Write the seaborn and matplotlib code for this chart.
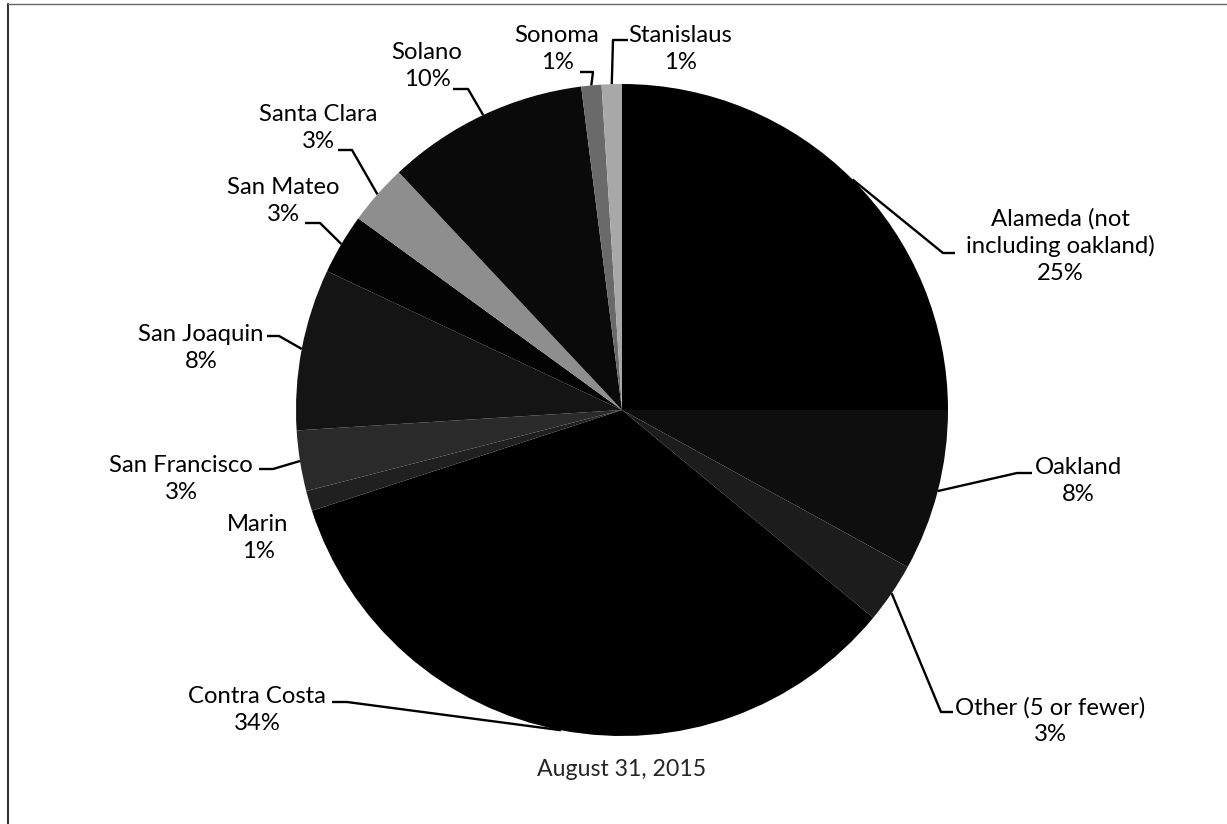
import numpy as np
import seaborn as sns
import matplotlib.pyplot as plt
from matplotlib.lines import Line2D

# data
counties = ["Alameda (not\nincluding oakland)", "Oakland", "Other (5 or fewer)",
            "Contra Costa", "Marin", "San Francisco", "San Joaquin", "San Mateo",
            "Santa Clara", "Solano", "Sonoma", "Stanislaus"]
shares = [25, 8, 3, 34, 1, 3, 8, 3, 3, 10, 1, 1]
caption = "August 31, 2015"

# look
colors = ["#000000", "#0e0e0e", "#1c1c1c", "#000000", "#202020", "#2a2a2a",
          "#141414", "#030303", "#8e8e8e", "#0a0a0a", "#6a6a6a", "#a8a8a8"]

# label layout in pixels (block center, text-side leader end, elbow)
label_pos = [(1060, 246), (1078, 481), (1050, 721), (257, 710), (258, 538),
             (181, 479), (201, 348), (283, 201), (318, 128), (427, 66),
             (557, 49), (680, 49)]
leader = [((955, 253), (943, 253)), ((1032, 473), (1017, 473)),
          ((953, 712), (941, 712)), ((332, 702), (347, 702)), None,
          ((259, 469), (273, 469)), ((267, 336), (279, 336)),
          ((305, 223), (320, 223)), ((338, 150), (352, 150)),
          ((453, 89), (468, 89)), ((580, 72), (593, 72)),
          ((628, 40), (613, 40))]

W, H = 1227, 824
CX, CY, R = 622, 410, 326
FS = 17.2

sns.set_theme(style="white")
plt.rcParams["font.family"] = ["Lato", "DejaVu Sans"]

fig = plt.figure(figsize=(W / 100, H / 100), dpi=100)
ax = fig.add_axes([0, 0, 1, 1])


def fy(py):
    return H - py


wedges, _ = ax.pie(shares, colors=colors, startangle=90, counterclock=False,
                   center=(CX, fy(CY)), radius=R,
                   wedgeprops=dict(linewidth=0, antialiased=True))
ax.set_xlim(0, W)
ax.set_ylim(0, H)
ax.set_aspect("auto")
ax.axis("off")

for w, name, val, pos, ld in zip(wedges, counties, shares, label_pos, leader):
    ax.text(pos[0], fy(pos[1]), f"{name}\n{val}%", ha="center", va="center",
            fontsize=FS, linespacing=1.3, color="black")
    if ld is None:
        continue
    mid = np.deg2rad((w.theta1 + w.theta2) / 2)
    px = CX + R * np.cos(mid)
    py = CY - R * np.sin(mid)
    (ex, ey), (bx, by) = ld
    ax.plot([ex, bx, px], [fy(ey), fy(by), fy(py)], color="black", lw=1.7,
            solid_capstyle="butt")

ax.text(CX, fy(770), caption, ha="center", va="center", fontsize=FS - 0.5)

# scanned page border (left and top only)
fig.add_artist(Line2D([8 / W, 8 / W], [0, 1 - 4 / H], transform=fig.transFigure,
                      color="#333333", lw=1.5))
fig.add_artist(Line2D([8 / W, 1], [1 - 4 / H, 1 - 4 / H], transform=fig.transFigure,
                      color="#666666", lw=1.0))

fig.savefig("out.png", dpi=100)
